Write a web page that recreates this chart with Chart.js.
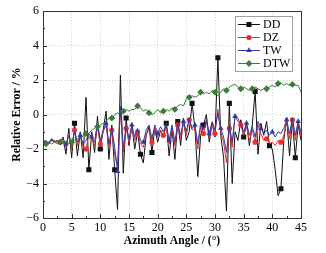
<!DOCTYPE html>
<html>
<head>
<meta charset="utf-8">
<script src="https://cdn.jsdelivr.net/npm/chart.js@4.4.1/dist/chart.umd.min.js"></script>
<style>
  html, body { margin: 0; padding: 0; background: #fff; }
  #wrap { width: 326px; height: 253px; }
</style>
</head>
<body>
<div id="wrap"><canvas id="chart"></canvas></div>
<script>
// azimuth angle samples (deg)
const angles = [0,0.5,1,1.5,2,2.5,3,3.5,4,4.5,5,5.5,6,6.5,7,7.5,8,8.5,9,9.5,
  10,10.5,11,11.5,12,12.5,13,13.5,14,14.5,15,15.5,16,16.5,17,17.5,18,18.5,19,19.5,
  20,20.5,21,21.5,22,22.5,23,23.5,24,24.5,25,25.5,26,26.5,27,27.5,28,28.5,29,29.5,
  30,30.5,31,31.5,32,32.5,33,33.5,34,34.5,35,35.5,36,36.5,37,37.5,38,38.5,39,39.5,
  40,40.5,41,41.5,42,42.5,43,43.5,44,44.5,45];

// relative error (%)
const dd = [-1.6,-1.5,-1.7,-1.4,-1.6,-1.5,-1.7,-1.3,-2.3,-0.8,-2.5,-0.5,-2.4,-1.0,-2.5,1.0,-3.2,-1.0,-2.2,-0.1,
  -2.0,-0.9,0.2,-2.6,-0.6,-3.2,-5.5,2.3,-3.4,-0.2,-1.8,-0.6,-2.0,-1.0,-2.3,-2.8,-1.2,-0.7,-2.2,-0.8,
  -1.6,-0.9,-1.3,-0.5,-2.4,-0.8,-2.6,-0.4,-1.8,-0.2,-1.5,-1.0,0.65,-0.8,-3.6,-1.2,-0.6,0.0,-1.6,-0.5,
  -1.3,3.3,-1.2,-2.5,-5.6,0.65,-4.0,-1.0,-1.5,-0.3,-1.3,-0.5,-1.8,-0.6,1.35,-2.3,-0.5,-1.2,-0.4,-1.8,
  -2.0,-3.2,-4.7,-4.3,-1.5,-0.2,-2.4,-0.3,-2.5,-0.6,-1.5];
const dz = [-1.6,-1.6,-1.7,-1.5,-1.6,-1.5,-1.6,-1.4,-1.9,-1.1,-2.0,-0.9,-1.8,-1.1,-1.9,-2.0,-1.2,-1.4,-1.8,-0.7,
  -1.7,-1.0,-0.6,-1.9,-0.9,-2.3,-2.9,0.3,-2.2,-0.8,-1.6,-0.8,-1.5,-1.0,-1.7,-1.9,-1.1,-0.9,-1.6,-0.8,
  -1.3,-0.9,-1.2,-0.7,-1.7,-0.8,-1.8,-0.6,-1.4,-0.5,-1.2,-0.3,-0.9,-0.8,-2.0,-0.7,-1.1,-0.4,-1.3,-0.6,
  -1.1,0.3,-1.0,-1.6,-2.8,-0.8,-1.9,0.0,-0.2,-0.6,-1.2,-0.7,-1.5,-0.9,-1.6,-0.6,-1.1,-1.5,-1.4,-1.7,
  -1.6,-1.8,-1.5,-1.6,-1.2,-0.4,-1.4,-0.3,-1.5,-0.5,-1.2];
const tw = [-1.5,-1.6,-1.6,-1.5,-1.5,-1.6,-1.5,-1.4,-1.7,-1.2,-1.8,-1.0,-1.6,-1.2,-1.7,-1.5,-1.1,-1.3,-1.6,-0.6,
  -1.5,-0.9,-0.5,-1.7,-0.8,-1.9,-3.3,0.5,-1.9,-0.7,-1.4,-0.6,-1.3,-0.8,-1.5,-1.6,-0.9,-0.6,-1.4,-0.6,
  -1.1,-0.7,-1.0,-0.5,-1.5,-0.6,-1.6,-0.5,-1.2,-0.4,-1.0,-0.2,-0.8,-0.6,-1.7,-0.5,-0.9,-0.3,-1.1,-0.4,
  -0.9,0.1,-0.8,-1.3,-2.2,-0.6,-1.6,-0.1,-0.4,-0.5,-1.0,-0.5,-1.2,-0.7,-1.3,-0.4,-0.8,-1.1,-0.9,-1.2,
  -1.0,-1.3,-1.0,-1.1,-0.8,-0.3,-1.1,-0.2,-1.2,-0.4,-1.0];
const dtw = [-1.6,-1.7,-1.6,-1.7,-1.6,-1.7,-1.6,-1.7,-1.6,-1.7,-1.6,-1.5,-1.4,-1.4,-1.2,-1.1,-1.1,-0.9,-0.8,-0.7,
  -0.6,-0.5,-0.4,-0.2,-0.2,0.0,0.1,0.0,0.2,0.3,0.2,0.3,0.3,0.5,0.4,0.2,0.3,0.1,0.0,0.1,
  0.3,0.1,0.2,0.3,0.2,0.4,0.3,0.5,0.6,0.5,0.9,1.0,1.1,1.0,1.1,1.3,1.2,1.3,1.2,1.4,
  1.3,1.1,1.3,1.5,1.4,1.6,1.7,1.75,1.6,1.5,1.6,1.5,1.4,1.5,1.6,1.5,1.4,1.5,1.5,1.6,
  1.7,1.6,1.8,1.85,1.7,1.8,1.7,1.75,1.7,1.7,1.3];

const seriesNames = ['DD', 'DZ', 'TW', 'DTW'];
const xTicks = [0, 5, 10, 15, 20, 25, 30, 35, 40, 45];
const yTicks = [-6, -4, -2, 0, 2, 4, 6];

const SERIF = '"Liberation Serif", "Times New Roman", Times, serif';
const MARK_EVERY = 4.5;

// show a marker roughly every few samples, like the original plot
function markerRadius(off, r) {
    return function(ctx) {
        const i = ctx.dataIndex;
        const k = Math.round((i - off) / MARK_EVERY);
        return (k >= 0 && Math.round(off + k * MARK_EVERY) === i) ? r : 0;
    };
}

function pts(values) {
    return angles.map((a, i) => ({ x: a, y: values[i] }));
}

const styles = [
    { color: '#111111', point: 'rect', r: 3.6, off: 11, order: 4 },
    { color: '#e8312f', point: 'circle', r: 2.6, off: 6, order: 3 },
    { color: '#2f3aa8', point: 'triangle', r: 3.2, off: 8, order: 2 },
    { color: '#3a7d35', point: 'rectRot', r: 3.4, off: 1, order: 1 }
];

const datasets = [dd, dz, tw, dtw].map((vals, i) => ({
    label: seriesNames[i],
    data: pts(vals),
    borderColor: styles[i].color,
    backgroundColor: styles[i].color,
    borderWidth: 1,
    pointStyle: styles[i].point,
    pointRadius: markerRadius(styles[i].off, styles[i].r),
    pointBorderWidth: 0,
    tension: 0,
    order: styles[i].order
}));

function drawMarker(ctx, style, x, y, r) {
    ctx.beginPath();
    if (style === 'rect') {
        const s = r * Math.SQRT1_2;
        ctx.rect(x - s, y - s, 2 * s, 2 * s);
    } else if (style === 'circle') {
        ctx.arc(x, y, r, 0, Math.PI * 2);
    } else if (style === 'triangle') {
        ctx.moveTo(x, y - r);
        ctx.lineTo(x + r * 0.87, y + r * 0.5);
        ctx.lineTo(x - r * 0.87, y + r * 0.5);
        ctx.closePath();
    } else {
        ctx.moveTo(x, y - r);
        ctx.lineTo(x + r, y);
        ctx.lineTo(x, y + r);
        ctx.lineTo(x - r, y);
        ctx.closePath();
    }
    ctx.fill();
}

// frame, inward tick marks and boxed legend
const framePlugin = {
    id: 'frame',
    afterDraw(chart) {
        const { ctx, chartArea: a, scales } = chart;
        ctx.save();
        ctx.strokeStyle = '#333';
        ctx.lineWidth = 1;
        ctx.strokeRect(Math.round(a.left) + 0.5, Math.round(a.top) + 0.5,
            Math.round(a.right - a.left), Math.round(a.bottom - a.top));

        ctx.beginPath();
        for (let v = 0; v <= 45; v += 2.5) {
            const px = Math.round(scales.x.getPixelForValue(v)) + 0.5;
            const len = (v % 5 === 0) ? 4 : 2;
            ctx.moveTo(px, a.bottom);
            ctx.lineTo(px, a.bottom - len);
        }
        for (let v = -6; v <= 6; v += 1) {
            const py = Math.round(scales.y.getPixelForValue(v)) + 0.5;
            const len = (v % 2 === 0) ? 4 : 2;
            ctx.moveTo(a.left, py);
            ctx.lineTo(a.left + len, py);
        }
        ctx.stroke();

        // legend box
        const bx = 235.5, by = 16.5, bw = 57, bh = 55;
        ctx.fillStyle = '#fff';
        ctx.fillRect(bx, by, bw, bh);
        ctx.strokeStyle = '#a0a0a0';
        ctx.strokeRect(bx, by, bw, bh);
        ctx.font = '12px ' + SERIF;
        ctx.textBaseline = 'middle';
        ctx.textAlign = 'left';
        seriesNames.forEach((name, i) => {
            const y = 24.5 + i * 13;
            const st = styles[i];
            ctx.strokeStyle = st.color;
            ctx.fillStyle = st.color;
            ctx.beginPath();
            ctx.moveTo(238, y);
            ctx.lineTo(260, y);
            ctx.stroke();
            drawMarker(ctx, st.point, 249, y, st.r);
            ctx.fillStyle = '#000';
            ctx.fillText(name, 263, y + 0.5);
        });
        ctx.restore();
    }
};

new Chart(document.getElementById('chart'), {
    type: 'line',
    data: { datasets: datasets },
    options: {
        responsive: true,
        maintainAspectRatio: false,
        animation: false,
        layout: { padding: { top: 9, right: 25, left: 0, bottom: 0 } },
        scales: {
            x: {
                type: 'linear',
                min: 0,
                max: 45,
                afterBuildTicks: (s) => { s.ticks = xTicks.map(v => ({ value: v })); },
                afterFit: (s) => { s.height = 35; },
                grid: { color: 'rgba(0,0,0,0.2)', drawTicks: false },
                border: { display: false, dash: [1, 2] },
                ticks: {
                    color: '#000',
                    padding: 3,
                    maxRotation: 0,
                    font: { family: SERIF, size: 12 }
                },
                title: {
                    display: true,
                    text: 'Azimuth Angle / (°)',
                    color: '#000',
                    padding: { top: 0, bottom: 5 },
                    font: { family: SERIF, size: 11.6, weight: 'bold' }
                }
            },
            y: {
                min: -6,
                max: 6,
                afterBuildTicks: (s) => { s.ticks = yTicks.map(v => ({ value: v })); },
                afterFit: (s) => { s.width = 43; },
                grid: { color: 'rgba(0,0,0,0.2)', drawTicks: false },
                border: { display: false, dash: [1, 2] },
                ticks: {
                    color: '#000',
                    padding: 4,
                    font: { family: SERIF, size: 12 },
                    callback: (v) => (v < 0 ? '\u2212' + Math.abs(v) : String(v))
                },
                title: {
                    display: true,
                    text: 'Relative Error / %',
                    color: '#000',
                    padding: { top: 10, bottom: 0 },
                    font: { family: SERIF, size: 11.8, weight: 'bold' }
                }
            }
        },
        plugins: {
            legend: { display: false },
            tooltip: { enabled: false }
        }
    },
    plugins: [framePlugin]
});
</script>
</body>
</html>
